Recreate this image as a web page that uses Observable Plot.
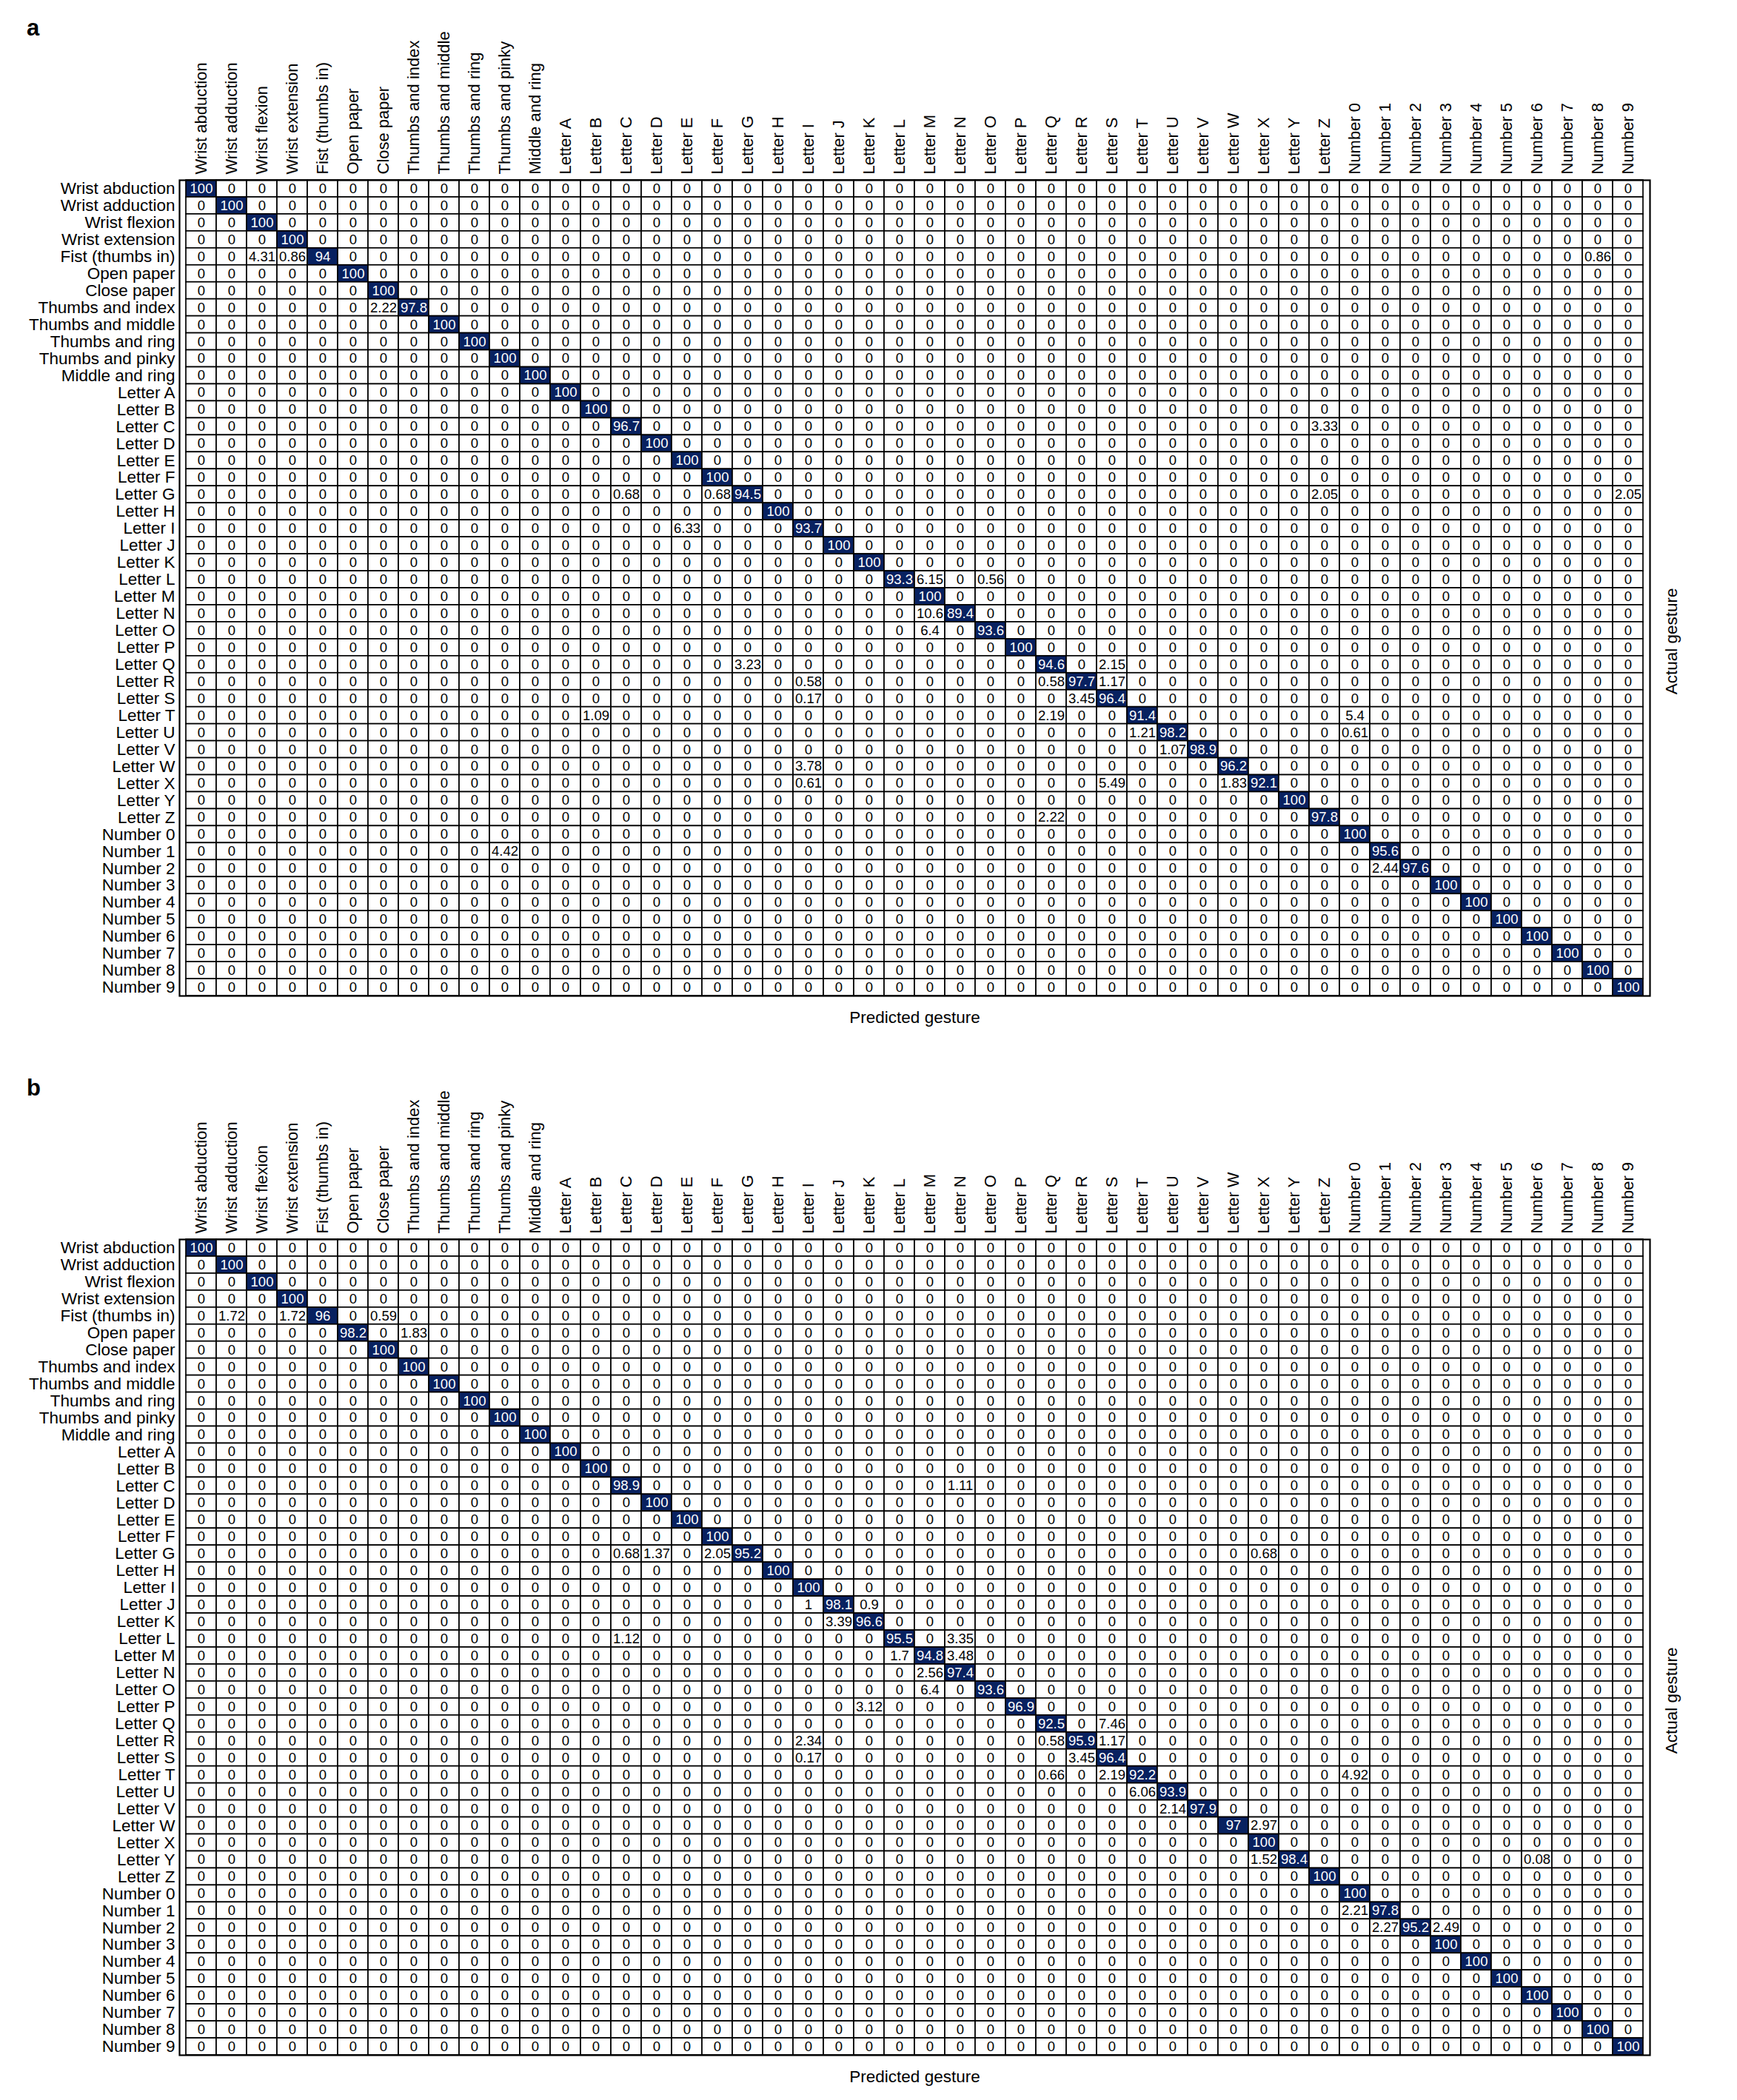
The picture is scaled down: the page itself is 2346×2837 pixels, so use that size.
<!DOCTYPE html>
<html>
<head>
<meta charset="utf-8">
<script src="https://cdn.jsdelivr.net/npm/d3@7"></script>
<script src="https://cdn.jsdelivr.net/npm/@observablehq/plot@0.6"></script>
<style>
  html, body { margin: 0; padding: 0; background: #ffffff; }
  #wrap { position: relative; width: 2346px; height: 2837px; font-family: "Liberation Sans", Arial, Helvetica, sans-serif; }
  .panel { position: absolute; left: 0; z-index: 1; }
  .tag { position: absolute; z-index: 2; font-weight: bold; font-size: 31px; line-height: 1; color: #000; }
</style>
</head>
<body>
<div id="wrap">
  <div class="panel" id="panelA" style="top:0px;"></div>
  <div class="panel" id="panelB" style="top:1410px;"></div>
  <div class="tag" style="left:36px; top:22px;">a</div>
  <div class="tag" style="left:36px; top:1454px;">b</div>
</div>
<script>
// ---- categories (same order for predicted columns and actual rows) ----
const gestures = [
  "Wrist abduction", "Wrist adduction", "Wrist flexion", "Wrist extension",
  "Fist (thumbs in)", "Open paper", "Close paper", "Thumbs and index",
  "Thumbs and middle", "Thumbs and ring", "Thumbs and pinky", "Middle and ring",
  "Letter A", "Letter B", "Letter C", "Letter D", "Letter E", "Letter F",
  "Letter G", "Letter H", "Letter I", "Letter J", "Letter K", "Letter L",
  "Letter M", "Letter N", "Letter O", "Letter P", "Letter Q", "Letter R",
  "Letter S", "Letter T", "Letter U", "Letter V", "Letter W", "Letter X",
  "Letter Y", "Letter Z",
  "Number 0", "Number 1", "Number 2", "Number 3", "Number 4",
  "Number 5", "Number 6", "Number 7", "Number 8", "Number 9"
];

// ---- panel a: diagonal (correct) percentages, one per actual gesture ----
const diagA = [
  100, 100, 100, 100, 94, 100, 100, 97.8, 100, 100, 100, 100,
  100, 100, 96.7, 100, 100, 100, 94.5, 100, 93.7, 100, 100, 93.3,
  100, 89.4, 93.6, 100, 94.6, 97.7, 96.4, 91.4, 98.2, 98.9, 96.2, 92.1,
  100, 97.8,
  100, 95.6, 97.6, 100, 100, 100, 100, 100, 100, 100
];
// ---- panel a: off-diagonal confusions [actual, predicted, percent]; all others are 0 ----
const offA = [
  ["Fist (thumbs in)", "Wrist flexion", 4.31],
  ["Fist (thumbs in)", "Wrist extension", 0.86],
  ["Fist (thumbs in)", "Number 8", 0.86],
  ["Thumbs and index", "Close paper", 2.22],
  ["Letter C", "Letter Z", 3.33],
  ["Letter G", "Letter C", 0.68],
  ["Letter G", "Letter F", 0.68],
  ["Letter G", "Letter Z", 2.05],
  ["Letter G", "Number 9", 2.05],
  ["Letter I", "Letter E", 6.33],
  ["Letter L", "Letter M", 6.15],
  ["Letter L", "Letter O", 0.56],
  ["Letter N", "Letter M", 10.6],
  ["Letter O", "Letter M", 6.4],
  ["Letter Q", "Letter G", 3.23],
  ["Letter Q", "Letter S", 2.15],
  ["Letter R", "Letter I", 0.58],
  ["Letter R", "Letter Q", 0.58],
  ["Letter R", "Letter S", 1.17],
  ["Letter S", "Letter I", 0.17],
  ["Letter S", "Letter R", 3.45],
  ["Letter T", "Letter B", 1.09],
  ["Letter T", "Letter Q", 2.19],
  ["Letter T", "Number 0", 5.4],
  ["Letter U", "Letter T", 1.21],
  ["Letter U", "Number 0", 0.61],
  ["Letter V", "Letter U", 1.07],
  ["Letter W", "Letter I", 3.78],
  ["Letter X", "Letter I", 0.61],
  ["Letter X", "Letter S", 5.49],
  ["Letter X", "Letter W", 1.83],
  ["Letter Z", "Letter Q", 2.22],
  ["Number 1", "Thumbs and pinky", 4.42],
  ["Number 2", "Number 1", 2.44]
];

// ---- panel b ----
const diagB = [
  100, 100, 100, 100, 96, 98.2, 100, 100, 100, 100, 100, 100,
  100, 100, 98.9, 100, 100, 100, 95.2, 100, 100, 98.1, 96.6, 95.5,
  94.8, 97.4, 93.6, 96.9, 92.5, 95.9, 96.4, 92.2, 93.9, 97.9, 97, 100,
  98.4, 100,
  100, 97.8, 95.2, 100, 100, 100, 100, 100, 100, 100
];
const offB = [
  ["Fist (thumbs in)", "Wrist adduction", 1.72],
  ["Fist (thumbs in)", "Wrist extension", 1.72],
  ["Fist (thumbs in)", "Close paper", 0.59],
  ["Open paper", "Thumbs and index", 1.83],
  ["Letter C", "Letter N", 1.11],
  ["Letter G", "Letter C", 0.68],
  ["Letter G", "Letter D", 1.37],
  ["Letter G", "Letter F", 2.05],
  ["Letter G", "Letter X", 0.68],
  ["Letter J", "Letter I", 1],
  ["Letter J", "Letter K", 0.9],
  ["Letter K", "Letter J", 3.39],
  ["Letter L", "Letter C", 1.12],
  ["Letter L", "Letter N", 3.35],
  ["Letter M", "Letter L", 1.7],
  ["Letter M", "Letter N", 3.48],
  ["Letter N", "Letter M", 2.56],
  ["Letter O", "Letter M", 6.4],
  ["Letter P", "Letter K", 3.12],
  ["Letter Q", "Letter S", 7.46],
  ["Letter R", "Letter I", 2.34],
  ["Letter R", "Letter Q", 0.58],
  ["Letter R", "Letter S", 1.17],
  ["Letter S", "Letter I", 0.17],
  ["Letter S", "Letter R", 3.45],
  ["Letter T", "Letter Q", 0.66],
  ["Letter T", "Letter S", 2.19],
  ["Letter T", "Number 0", 4.92],
  ["Letter U", "Letter T", 6.06],
  ["Letter V", "Letter U", 2.14],
  ["Letter W", "Letter X", 2.97],
  ["Letter Y", "Letter X", 1.52],
  ["Letter Y", "Number 6", 0.08],
  ["Number 1", "Number 0", 2.21],
  ["Number 2", "Number 1", 2.27],
  ["Number 2", "Number 3", 2.49]
];

const NAVY = "#082160";
const FONT = "'Liberation Sans', Arial, Helvetica, sans-serif";

function buildTable(diag, off) {
  const lookup = new Map(off.map(([a, p, v]) => [a + "|" + p, v]));
  const rows = [];
  gestures.forEach((actual, i) => {
    gestures.forEach((predicted, j) => {
      const value = i === j ? diag[i] : (lookup.get(actual + "|" + predicted) ?? 0);
      rows.push({actual, predicted, value});
    });
  });
  return rows;
}

function matrix(data, {height, marginTop, marginBottom}) {
  return Plot.plot({
    width: 2346,
    height,
    marginTop,
    marginBottom,
    marginLeft: 242,
    marginRight: 118,
    style: {fontFamily: FONT, fontSize: "22px", background: "#ffffff", color: "#000"},
    x: {domain: gestures, padding: 0, axis: null, label: null},
    y: {domain: gestures, padding: 0, axis: null, label: null},
    color: {type: "threshold", domain: [50], range: ["#ffffff", NAVY]},
    marks: [
      Plot.cell(data, {x: "predicted", y: "actual", fill: "value", stroke: "#000", strokeWidth: 1.7}),
      Plot.text(data.filter(d => d.value >= 50), {
        x: "predicted", y: "actual", text: d => String(d.value),
        fill: "#ffffff", fontSize: 18.5
      }),
      Plot.text(data.filter(d => d.value < 50), {
        x: "predicted", y: "actual", text: d => String(d.value),
        fill: "#000", fontSize: 18.5
      }),
      Plot.frame({stroke: "#000", strokeWidth: 2.2}),
      Plot.axisX({anchor: "top", tickRotate: -90, tickSize: 0, tickPadding: 8, fontSize: 22, label: null}),
      Plot.axisY({anchor: "left", tickSize: 0, tickPadding: 6, fontSize: 22.5, label: null}),
      Plot.text(["Predicted gesture"], {frameAnchor: "bottom", dy: 36, fontSize: 22.5, text: d => d}),
      Plot.text(["Actual gesture"], {frameAnchor: "right", dx: 29, rotate: -90, fontSize: 22.5, text: d => d})
    ]
  });
}

document.getElementById("panelA").append(
  matrix(buildTable(diagA, offA), {height: 1410, marginTop: 243, marginBottom: 65})
);
document.getElementById("panelB").append(
  matrix(buildTable(diagB, offB), {height: 1427, marginTop: 264, marginBottom: 61})
);
</script>
</body>
</html>
